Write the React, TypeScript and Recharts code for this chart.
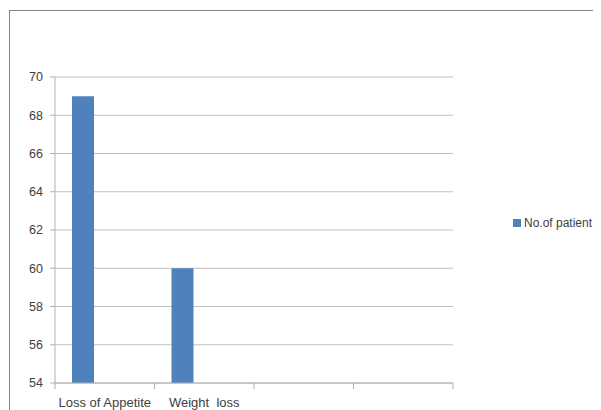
import { BarChart, Bar, XAxis, YAxis, CartesianGrid, Legend } from 'recharts';

const categories = ['Loss of Appetite', 'Weight  loss', '', ''];
const patients = [69, 60, null, null];
// the source sheet had two more (empty) series columns next to the patient count
const series2 = [null, null, null, null];
const series3 = [null, null, null, null];
const yTicks = [54, 56, 58, 60, 62, 64, 66, 68, 70];

const data = categories.map((name, i) => ({
  name,
  patients: patients[i],
  s2: series2[i],
  s3: series3[i],
}));

const font = '"Liberation Sans", Arial, sans-serif';
const axisGray = '#b0b0b0';

// Excel puts category ticks on the band edges, not at the centre
function CategoryTick(props: any) {
  const { x, y, payload, index } = props;
  const half = payload.offset ?? 0;
  return (
    <g>
      <line x1={x - half} x2={x - half} y1={y} y2={y + 6} stroke={axisGray} />
      {index === categories.length - 1 && (
        <line x1={x + half} x2={x + half} y1={y} y2={y + 6} stroke={axisGray} />
      )}
      <text
        x={x}
        y={y + 24}
        textAnchor="middle"
        fill="#404040"
        fontSize={13}
        fontFamily={font}
        style={{ whiteSpace: 'pre' }}
      >
        {payload.value}
      </text>
    </g>
  );
}

function LegendBox(props: any) {
  const items = (props.payload || []).filter((p: any) => p.type !== 'none');
  return (
    <div>
      {items.map((p: any) => (
        <div key={p.value} style={{ display: 'flex', alignItems: 'center', whiteSpace: 'nowrap' }}>
          <span style={{ width: 8, height: 8, background: p.color, marginRight: 3, display: 'inline-block' }} />
          <span style={{ color: '#404040', fontSize: 12, fontFamily: font }}>{p.value}</span>
        </div>
      ))}
    </div>
  );
}

export default function App() {
  return (
    <div style={{ width: 593, height: 402, overflow: 'hidden', position: 'relative', fontFamily: font }}>
      <div
        style={{
          position: 'absolute',
          left: 1,
          top: 2,
          width: 700,
          height: 500,
          border: '1px solid #868686',
          boxSizing: 'border-box',
        }}
      />
      <div style={{ position: 'absolute', left: 0, top: 0 }}>
        <BarChart
          width={593}
          height={402}
          data={data}
          margin={{ top: 69, right: 148, bottom: 0, left: 0 }}
          barCategoryGap={17}
          barGap={0}
        >
          <CartesianGrid vertical={false} stroke="#c0c0c0" strokeWidth={1} />
          <XAxis
            dataKey="name"
            height={27}
            axisLine={{ stroke: axisGray }}
            tickLine={false}
            tickSize={0}
            tickMargin={0}
            tick={<CategoryTick />}
            interval={0}
          />
          <YAxis
            width={47}
            domain={[54, 70]}
            ticks={yTicks}
            allowDataOverflow
            axisLine={{ stroke: axisGray }}
            tickLine={{ stroke: axisGray }}
            tickSize={5}
            tickMargin={7}
            tick={{ fill: '#404040', fontSize: 12.5, fontFamily: font }}
          />
          <Legend
            layout="horizontal"
            align="center"
            verticalAlign="middle"
            content={<LegendBox />}
            wrapperStyle={{ left: 505, top: 208, width: 120 }}
          />
          <Bar dataKey="patients" name="No.of patient" fill="#4f81bd" isAnimationActive={false} />
          <Bar dataKey="s2" name="Series2" fill="#c0504d" legendType="none" isAnimationActive={false} />
          <Bar dataKey="s3" name="Series3" fill="#9bbb59" legendType="none" isAnimationActive={false} />
        </BarChart>
      </div>
    </div>
  );
}
